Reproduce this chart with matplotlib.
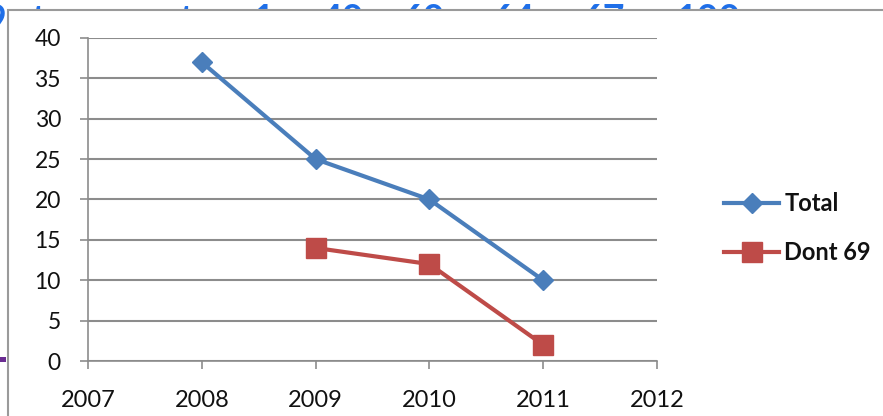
import matplotlib
matplotlib.use("Agg")
import matplotlib.pyplot as plt
from matplotlib.patches import Rectangle

years_total = [2008, 2009, 2010, 2011]
total = [37, 25, 20, 10]
years_dont = [2009, 2010, 2011]
dont69 = [14, 12, 2]
x_ticks = [2007, 2008, 2009, 2010, 2011, 2012]
y_ticks = [0, 5, 10, 15, 20, 25, 30, 35, 40]
header_pieces = ["9", "t", "t", "1", "40", "60", "64", "67", "100"]
header_x = [-15, 31, 179, 253, 321, 401, 491, 581, 676]

plt.rcParams['font.family'] = ['Lato', 'DejaVu Sans']

W, H = 883, 416
fig = plt.figure(figsize=(W / 100, H / 100), dpi=100)
fig.patch.set_facecolor('white')

# background layer: cut-off header text behind the chart frame
ax_bg = fig.add_axes([0, 0, 1, 1], zorder=-10)
ax_bg.set_xlim(0, W)
ax_bg.set_ylim(H, 0)
ax_bg.axis('off')
for txt, xp in zip(header_pieces, header_x):
    ax_bg.text(xp, 32, txt, color='#1F6FE8', fontsize=27, fontweight='bold',
               ha='left', va='baseline')

# frame layer covering the header text
ax_fr = fig.add_axes([0, 0, 1, 1], zorder=-5)
ax_fr.set_xlim(0, W)
ax_fr.set_ylim(H, 0)
ax_fr.axis('off')
ax_fr.add_patch(Rectangle((7.5, 10), W, H, facecolor='white', edgecolor='#9A9A9A',
                          linewidth=1.5))
ax_fr.add_patch(Rectangle((0, 357), 6, 5, facecolor='#6A2C91', edgecolor='none',
                          clip_on=False))

ax = fig.add_axes([88 / W, 1 - 361 / H, (657 - 88) / W, (361 - 38) / H], zorder=1)
ax.set_facecolor('none')
ax.set_xlim(2007, 2012)
ax.set_ylim(0, 40)
ax.set_xticks(x_ticks)
ax.set_yticks(y_ticks)
ax.set_xticklabels([str(v) for v in x_ticks])
ax.set_yticklabels([str(v) for v in y_ticks])
ax.yaxis.grid(True, color='#8C8C8C', linewidth=1.5)
ax.set_axisbelow(True)
for s in ['top', 'right']:
    ax.spines[s].set_visible(False)
for s in ['left', 'bottom']:
    ax.spines[s].set_color('#8C8C8C')
    ax.spines[s].set_linewidth(1.2)
ax.tick_params(axis='y', length=6, width=1.2, color='#8C8C8C', labelsize=16.5, pad=13.5,
               labelcolor='#111111')
ax.tick_params(axis='x', length=6, width=1.2, color='#8C8C8C', labelsize=17, pad=15,
               labelcolor='#111111')

ax.plot(years_total, total, color='#4A7EBB', linewidth=3, marker='D', markersize=10,
        markerfacecolor='#4A7EBB', markeredgecolor='#4A7EBB', label='Total', clip_on=False)
ax.plot(years_dont, dont69, color='#BE4B48', linewidth=3, marker='s', markersize=14.5,
        markerfacecolor='#BE4B48', markeredgecolor='#BE4B48', label='Dont 69', clip_on=False)

leg = ax.legend(loc='center left', bbox_to_anchor=(724 / W, 1 - 228 / H),
                bbox_transform=fig.transFigure, frameon=False,
                handlelength=2.35, handletextpad=0.2, labelspacing=1.1,
                borderpad=0, borderaxespad=0,
                prop={'weight': 'bold', 'size': 17})
for t in leg.get_texts():
    t.set_color('#111111')

fig.savefig('out.png', dpi=100, facecolor='white')
